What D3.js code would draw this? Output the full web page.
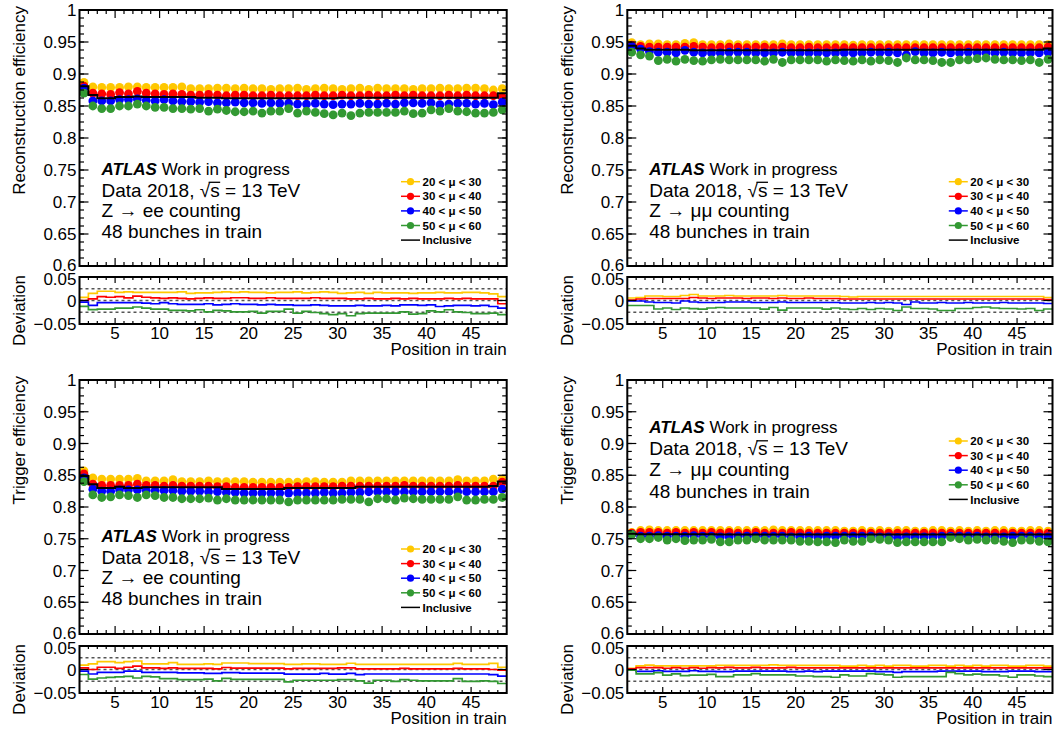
<!DOCTYPE html>
<html><head><meta charset="utf-8">
<script src="https://cdn.jsdelivr.net/npm/d3@7"></script>
<style>
body{margin:0;background:#fff;}
svg{display:block;font-family:"Liberation Sans",Arial,Helvetica,sans-serif;}
</style>
</head><body>
<svg id="chart" width="1055" height="730"></svg>
<script>
// ---------------- DATA ----------------
const positions = d3.range(1, 49); // bunch position in train
const muBins = ["20 < \u03bc < 30", "30 < \u03bc < 40", "40 < \u03bc < 50", "50 < \u03bc < 60"];
const inclusiveLabel = "Inclusive";
const mainTicks = [0.6, 0.65, 0.7, 0.75, 0.8, 0.85, 0.9, 0.95, 1];
const mainTickLabels = ["0.6", "0.65", "0.7", "0.75", "0.8", "0.85", "0.9", "0.95", "1"];
const devTicks = [-0.05, 0, 0.05];
const devTickLabels = ["\u22120.05", "0", "0.05"];
const devRefLines = [-0.025, 0, 0.025];
const xTicks = [5, 10, 15, 20, 25, 30, 35, 40, 45];
const xTickLabels = ["5", "10", "15", "20", "25", "30", "35", "40", "45"];

// Z->ee reconstruction efficiency
const recoEE_mu20 = [0.887,0.880,0.879,0.879,0.879,0.880,0.880,0.879,0.879,0.879,0.879,0.880,0.877,0.877,0.877,0.878,0.878,0.877,0.878,0.877,0.877,0.876,0.877,0.877,0.878,0.876,0.877,0.878,0.877,0.876,0.877,0.878,0.876,0.878,0.877,0.877,0.877,0.876,0.877,0.877,0.878,0.877,0.877,0.878,0.878,0.877,0.875,0.877];
const recoEE_mu30 = [0.881,0.870,0.869,0.868,0.871,0.869,0.873,0.870,0.869,0.868,0.869,0.868,0.867,0.867,0.868,0.867,0.866,0.867,0.867,0.866,0.866,0.867,0.866,0.866,0.866,0.866,0.867,0.866,0.866,0.867,0.866,0.866,0.867,0.866,0.866,0.867,0.866,0.867,0.866,0.866,0.866,0.867,0.866,0.867,0.866,0.866,0.866,0.864];
const recoEE_mu40 = [0.878,0.858,0.858,0.858,0.860,0.860,0.861,0.859,0.858,0.860,0.858,0.857,0.857,0.856,0.857,0.855,0.855,0.856,0.855,0.855,0.854,0.855,0.854,0.854,0.853,0.853,0.854,0.853,0.852,0.853,0.853,0.854,0.853,0.853,0.854,0.853,0.855,0.855,0.854,0.855,0.852,0.853,0.854,0.854,0.853,0.854,0.852,0.856];
const recoEE_mu50 = [0.870,0.850,0.846,0.846,0.850,0.850,0.853,0.850,0.848,0.848,0.846,0.846,0.845,0.846,0.842,0.845,0.843,0.841,0.841,0.842,0.839,0.842,0.842,0.846,0.839,0.842,0.840,0.838,0.836,0.839,0.835,0.839,0.840,0.840,0.840,0.840,0.842,0.838,0.839,0.844,0.842,0.846,0.842,0.841,0.839,0.839,0.840,0.844];
const recoEE_incl = [0.881,0.867,0.862,0.862,0.864,0.864,0.865,0.864,0.864,0.864,0.864,0.864,0.864,0.863,0.863,0.863,0.862,0.862,0.862,0.862,0.862,0.862,0.862,0.862,0.862,0.862,0.862,0.862,0.862,0.863,0.863,0.863,0.863,0.863,0.863,0.863,0.863,0.863,0.863,0.863,0.863,0.863,0.863,0.863,0.863,0.863,0.863,0.870];

// Z->mumu reconstruction efficiency
const recoMM_mu20 = [0.949,0.946,0.947,0.947,0.946,0.946,0.948,0.949,0.946,0.946,0.946,0.947,0.946,0.946,0.946,0.946,0.946,0.947,0.946,0.946,0.946,0.946,0.946,0.946,0.946,0.945,0.946,0.946,0.946,0.946,0.946,0.946,0.946,0.946,0.946,0.946,0.946,0.946,0.946,0.946,0.946,0.946,0.946,0.946,0.946,0.946,0.946,0.946];
const recoMM_mu30 = [0.945,0.943,0.942,0.942,0.942,0.942,0.942,0.943,0.942,0.941,0.942,0.942,0.942,0.941,0.942,0.942,0.941,0.942,0.941,0.941,0.942,0.941,0.941,0.941,0.941,0.941,0.941,0.941,0.941,0.941,0.941,0.941,0.941,0.941,0.941,0.941,0.941,0.941,0.941,0.941,0.941,0.941,0.941,0.941,0.941,0.941,0.941,0.942];
const recoMM_mu40 = [0.943,0.939,0.935,0.934,0.934,0.933,0.937,0.934,0.933,0.933,0.933,0.934,0.934,0.934,0.933,0.933,0.933,0.934,0.933,0.933,0.933,0.933,0.933,0.933,0.933,0.933,0.933,0.934,0.933,0.934,0.933,0.930,0.935,0.933,0.933,0.934,0.933,0.933,0.934,0.933,0.933,0.933,0.934,0.933,0.933,0.933,0.933,0.934];
const recoMM_mu50 = [0.934,0.930,0.928,0.921,0.923,0.920,0.923,0.921,0.920,0.922,0.923,0.922,0.922,0.922,0.922,0.920,0.923,0.918,0.922,0.922,0.922,0.922,0.920,0.922,0.921,0.920,0.922,0.920,0.922,0.921,0.918,0.925,0.922,0.922,0.921,0.918,0.918,0.922,0.922,0.924,0.925,0.923,0.922,0.922,0.921,0.922,0.918,0.923];
const recoMM_incl = [0.944,0.940,0.938,0.938,0.938,0.938,0.938,0.937,0.937,0.937,0.937,0.937,0.937,0.937,0.937,0.937,0.937,0.937,0.937,0.937,0.937,0.937,0.937,0.937,0.938,0.938,0.938,0.938,0.938,0.938,0.938,0.938,0.938,0.938,0.938,0.938,0.938,0.938,0.938,0.938,0.938,0.938,0.938,0.938,0.938,0.938,0.938,0.940];

// Z->ee trigger efficiency
const trigEE_mu20 = [0.857,0.846,0.844,0.844,0.844,0.844,0.845,0.841,0.841,0.841,0.843,0.840,0.840,0.840,0.841,0.840,0.840,0.840,0.840,0.839,0.839,0.839,0.839,0.839,0.839,0.840,0.840,0.839,0.839,0.839,0.841,0.841,0.841,0.841,0.841,0.841,0.841,0.841,0.841,0.841,0.841,0.841,0.843,0.841,0.841,0.841,0.844,0.844];
const trigEE_mu30 = [0.852,0.836,0.834,0.834,0.834,0.834,0.836,0.834,0.834,0.833,0.834,0.833,0.833,0.833,0.833,0.832,0.832,0.831,0.831,0.831,0.831,0.831,0.831,0.831,0.832,0.832,0.832,0.832,0.832,0.833,0.833,0.833,0.833,0.833,0.833,0.833,0.834,0.833,0.833,0.833,0.833,0.833,0.834,0.833,0.833,0.833,0.833,0.839];
const trigEE_mu40 = [0.846,0.828,0.825,0.825,0.827,0.827,0.827,0.826,0.826,0.826,0.826,0.825,0.825,0.825,0.824,0.824,0.823,0.823,0.822,0.822,0.822,0.822,0.822,0.822,0.822,0.822,0.822,0.823,0.822,0.822,0.823,0.823,0.824,0.824,0.824,0.824,0.824,0.824,0.824,0.824,0.824,0.824,0.824,0.824,0.824,0.824,0.824,0.828];
const trigEE_mu50 = [0.840,0.819,0.815,0.816,0.819,0.818,0.815,0.819,0.818,0.815,0.815,0.813,0.813,0.813,0.814,0.811,0.813,0.811,0.811,0.811,0.811,0.811,0.811,0.808,0.811,0.811,0.811,0.811,0.811,0.812,0.812,0.812,0.808,0.813,0.813,0.811,0.814,0.813,0.812,0.812,0.812,0.812,0.816,0.811,0.811,0.812,0.812,0.815];
const trigEE_incl = [0.849,0.836,0.830,0.830,0.832,0.830,0.830,0.831,0.831,0.831,0.831,0.831,0.831,0.831,0.831,0.831,0.8285,0.8285,0.8285,0.8285,0.8285,0.8285,0.8285,0.830,0.830,0.830,0.830,0.830,0.830,0.830,0.830,0.832,0.832,0.832,0.832,0.832,0.832,0.832,0.832,0.832,0.832,0.832,0.832,0.832,0.832,0.832,0.833,0.840];

// Z->mumu trigger efficiency
const trigMM_mu20 = [0.760,0.763,0.764,0.763,0.763,0.763,0.763,0.763,0.763,0.763,0.763,0.763,0.763,0.763,0.763,0.763,0.764,0.763,0.763,0.763,0.763,0.763,0.763,0.763,0.762,0.762,0.763,0.762,0.763,0.762,0.763,0.763,0.762,0.762,0.763,0.763,0.762,0.763,0.762,0.763,0.762,0.763,0.763,0.762,0.762,0.763,0.763,0.762];
const trigMM_mu30 = [0.759,0.760,0.760,0.760,0.759,0.760,0.759,0.760,0.759,0.760,0.759,0.760,0.759,0.759,0.760,0.759,0.759,0.759,0.760,0.759,0.759,0.759,0.759,0.759,0.759,0.759,0.759,0.759,0.759,0.759,0.759,0.759,0.759,0.759,0.759,0.759,0.759,0.759,0.759,0.759,0.759,0.759,0.759,0.759,0.759,0.759,0.759,0.759];
const trigMM_mu40 = [0.757,0.754,0.754,0.755,0.754,0.754,0.754,0.755,0.754,0.754,0.753,0.753,0.754,0.754,0.754,0.754,0.754,0.754,0.753,0.753,0.754,0.753,0.754,0.754,0.754,0.754,0.754,0.754,0.753,0.753,0.752,0.753,0.753,0.753,0.753,0.754,0.754,0.754,0.754,0.754,0.753,0.753,0.753,0.754,0.754,0.754,0.753,0.753];
const trigMM_mu50 = [0.757,0.750,0.750,0.752,0.748,0.750,0.747,0.748,0.748,0.749,0.745,0.745,0.748,0.748,0.750,0.748,0.748,0.748,0.748,0.746,0.746,0.745,0.745,0.744,0.748,0.746,0.746,0.750,0.749,0.748,0.744,0.745,0.745,0.745,0.745,0.745,0.752,0.750,0.748,0.749,0.748,0.748,0.746,0.744,0.748,0.748,0.746,0.745];
const trigMM_incl = [0.758,0.757,0.757,0.757,0.757,0.757,0.757,0.757,0.757,0.757,0.7565,0.7565,0.7565,0.7565,0.7565,0.7565,0.7565,0.7565,0.7565,0.7565,0.7565,0.7565,0.7565,0.7565,0.7565,0.7565,0.7565,0.7565,0.7565,0.7565,0.7565,0.7565,0.7565,0.7565,0.7565,0.7565,0.7565,0.7565,0.7565,0.7565,0.7565,0.7565,0.7565,0.7565,0.7565,0.7565,0.7565,0.7565];

// ---------------- STYLE / LAYOUT ----------------
const seriesColors = ["#ffc800", "#ff0000", "#0000ff", "#339933"];

const panels = [
  {left: 79.5, right: 506.7, mainTop: 10, mainBottom: 266, ratTop: 277, ratBottom: 324,
   ytitle: "Reconstruction efficiency", channel: "Z \u2192 ee counting",
   series: [recoEE_mu20, recoEE_mu30, recoEE_mu40, recoEE_mu50], incl: recoEE_incl,
   textY: [165, 186.5, 207, 228], legY: 171.7},
  {left: 627.3, right: 1052.5, mainTop: 10, mainBottom: 266, ratTop: 277, ratBottom: 324,
   ytitle: "Reconstruction efficiency", channel: "Z \u2192 \u03bc\u03bc counting",
   series: [recoMM_mu20, recoMM_mu30, recoMM_mu40, recoMM_mu50], incl: recoMM_incl,
   textY: [165, 186.5, 207, 228], legY: 171.7},
  {left: 79.5, right: 506.7, mainTop: 380, mainBottom: 634, ratTop: 646, ratBottom: 693,
   ytitle: "Trigger efficiency", channel: "Z \u2192 ee counting",
   series: [trigEE_mu20, trigEE_mu30, trigEE_mu40, trigEE_mu50], incl: trigEE_incl,
   textY: [162, 183.5, 204, 225], legY: 169},
  {left: 627.3, right: 1052.5, mainTop: 380, mainBottom: 634, ratTop: 646, ratBottom: 693,
   ytitle: "Trigger efficiency", channel: "Z \u2192 \u03bc\u03bc counting",
   series: [trigMM_mu20, trigMM_mu30, trigMM_mu40, trigMM_mu50], incl: trigMM_incl,
   textY: [53, 75, 96, 117.5], legY: 61}
];

const svg = d3.select("#chart");
svg.append("rect").attr("width", 1055).attr("height", 730).attr("fill", "#fff");

panels.forEach((p, pi) => {
  const g = svg.append("g");
  const x = d3.scaleLinear().domain([1, 49]).range([p.left, p.right]);
  const y = d3.scaleLinear().domain([0.6, 1]).range([p.mainBottom, p.mainTop]);
  const yr = d3.scaleLinear().domain([-0.05, 0.05]).range([p.ratBottom, p.ratTop]);

  const clipId = "clipR" + pi;
  svg.append("clipPath").attr("id", clipId).append("rect")
    .attr("x", p.left).attr("y", p.ratTop).attr("width", p.right - p.left).attr("height", p.ratBottom - p.ratTop);
  const clipM = "clipM" + pi;
  svg.append("clipPath").attr("id", clipM).append("rect")
    .attr("x", p.left).attr("y", p.mainTop).attr("width", p.right - p.left).attr("height", p.mainBottom - p.mainTop);

  // ---- main pad: markers
  p.series.forEach((vals, si) => {
    g.append("g").attr("clip-path", `url(#${clipM})`).selectAll("circle")
      .data(vals).join("circle")
      .attr("cx", (d, i) => x(positions[i] + 0.5))
      .attr("cy", d => y(d))
      .attr("r", 4.4)
      .attr("fill", seriesColors[si]);
  });
  // inclusive step histogram
  const stepPts = p.incl.map((v, i) => [positions[i], v]).concat([[positions[positions.length - 1] + 1, p.incl[p.incl.length - 1]]]);
  g.append("path").attr("clip-path", `url(#${clipM})`)
    .attr("d", d3.line().x(d => x(d[0])).y(d => y(d[1])).curve(d3.curveStepAfter)(stepPts))
    .attr("fill", "none").attr("stroke", "#000").attr("stroke-width", 2);

  // ---- ratio pad
  devRefLines.forEach(v => {
    g.append("line").attr("x1", p.left).attr("x2", p.right).attr("y1", yr(v)).attr("y2", yr(v))
      .attr("stroke", "#555").attr("stroke-width", 1.3).attr("stroke-dasharray", "3,3");
  });
  p.series.forEach((vals, si) => {
    const dev = vals.map((v, i) => v / p.incl[i] - 1);
    const pts = dev.map((d, i) => [positions[i], d]).concat([[positions[positions.length - 1] + 1, dev[dev.length - 1]]]);
    g.append("path").attr("clip-path", `url(#${clipId})`)
      .attr("d", d3.line().x(d => x(d[0])).y(d => yr(d[1])).curve(d3.curveStepAfter)(pts))
      .attr("fill", "none").attr("stroke", seriesColors[si]).attr("stroke-width", 1.7);
  });

  // ---- ticks
  const tk = g.append("g").attr("stroke", "#000").attr("stroke-width", 1.2);
  const minorX = d3.range(2, 49).filter(v => v % 5 !== 0);
  xTicks.forEach(t => {
    tk.append("line").attr("x1", x(t)).attr("x2", x(t)).attr("y1", p.mainBottom).attr("y2", p.mainBottom - 8);
    tk.append("line").attr("x1", x(t)).attr("x2", x(t)).attr("y1", p.mainTop).attr("y2", p.mainTop + 8);
    tk.append("line").attr("x1", x(t)).attr("x2", x(t)).attr("y1", p.ratBottom).attr("y2", p.ratBottom - 6);
    tk.append("line").attr("x1", x(t)).attr("x2", x(t)).attr("y1", p.ratTop).attr("y2", p.ratTop + 6);
  });
  minorX.forEach(t => {
    tk.append("line").attr("x1", x(t)).attr("x2", x(t)).attr("y1", p.mainBottom).attr("y2", p.mainBottom - 4);
    tk.append("line").attr("x1", x(t)).attr("x2", x(t)).attr("y1", p.mainTop).attr("y2", p.mainTop + 4);
    tk.append("line").attr("x1", x(t)).attr("x2", x(t)).attr("y1", p.ratBottom).attr("y2", p.ratBottom - 3);
    tk.append("line").attr("x1", x(t)).attr("x2", x(t)).attr("y1", p.ratTop).attr("y2", p.ratTop + 3);
  });
  const minorY = d3.range(0, 33).map(k => 0.6 + k * 0.0125);
  mainTicks.forEach(t => {
    tk.append("line").attr("x1", p.left).attr("x2", p.left + 9).attr("y1", y(t)).attr("y2", y(t));
    tk.append("line").attr("x1", p.right).attr("x2", p.right - 9).attr("y1", y(t)).attr("y2", y(t));
  });
  minorY.forEach(t => {
    tk.append("line").attr("x1", p.left).attr("x2", p.left + 4.5).attr("y1", y(t)).attr("y2", y(t));
    tk.append("line").attr("x1", p.right).attr("x2", p.right - 4.5).attr("y1", y(t)).attr("y2", y(t));
  });
  devTicks.forEach(t => {
    tk.append("line").attr("x1", p.left).attr("x2", p.left + 9).attr("y1", yr(t)).attr("y2", yr(t));
    tk.append("line").attr("x1", p.right).attr("x2", p.right - 9).attr("y1", yr(t)).attr("y2", yr(t));
  });

  // ---- frames
  [[p.mainTop, p.mainBottom], [p.ratTop, p.ratBottom]].forEach(([t, b]) => {
    g.append("rect").attr("x", p.left).attr("y", t).attr("width", p.right - p.left).attr("height", b - t)
      .attr("fill", "none").attr("stroke", "#000").attr("stroke-width", 2);
  });

  // ---- tick labels
  const lab = g.append("g").attr("font-size", 17).attr("fill", "#000");
  mainTicks.forEach((t, i) => {
    lab.append("text").attr("x", p.left - 3).attr("y", y(t)).attr("dy", i === 0 ? "0.28em" : "0.36em")
      .attr("text-anchor", "end").text(mainTickLabels[i]);
  });
  devTicks.forEach((t, i) => {
    lab.append("text").attr("x", p.left - 3).attr("y", yr(t)).attr("dy", i === 2 ? "0.46em" : "0.36em")
      .attr("text-anchor", "end").text(devTickLabels[i]);
  });
  xTicks.forEach((t, i) => {
    lab.append("text").attr("x", x(t)).attr("y", p.ratBottom + 15)
      .attr("text-anchor", "middle").text(xTickLabels[i]);
  });
  lab.append("text").attr("transform", `translate(${p.left - 54.5},${p.mainTop - 4}) rotate(-90)`)
    .attr("text-anchor", "end").text(p.ytitle);
  lab.append("text").attr("transform", `translate(${p.left - 54.5},${p.ratTop - 2}) rotate(-90)`)
    .attr("text-anchor", "end").text("Deviation");
  lab.append("text").attr("x", p.right).attr("y", p.ratBottom + 31)
    .attr("text-anchor", "end").text("Position in train");

  // ---- ATLAS label block
  const tx = p.left + 22;
  const t1 = g.append("text").attr("x", tx).attr("y", p.mainTop + p.textY[0]).attr("font-size", 17);
  t1.append("tspan").attr("font-weight", "bold").attr("font-style", "italic").text("ATLAS");
  t1.append("tspan").text(" Work in progress");
  const line2 = "Data 2018, \u221as = 13 TeV";
  const by2 = p.mainTop + p.textY[1];
  const t2 = g.append("text").attr("x", tx).attr("y", by2).attr("font-size", 19).text(line2);
  const node = t2.node();
  const iRad = line2.indexOf("\u221a");
  const xs0 = tx + node.getSubStringLength(0, iRad + 1) - 1.5;
  const xs1 = tx + node.getSubStringLength(0, iRad + 2) + 0.5;
  g.append("line").attr("x1", xs0).attr("x2", xs1).attr("y1", by2 - 14.2).attr("y2", by2 - 14.2)
    .attr("stroke", "#000").attr("stroke-width", 1.3);
  g.append("text").attr("x", tx).attr("y", p.mainTop + p.textY[2]).attr("font-size", 19).text(p.channel);
  g.append("text").attr("x", tx).attr("y", p.mainTop + p.textY[3]).attr("font-size", 19).text("48 bunches in train");

  // ---- legend
  const lx = p.left + 331;
  const rowH = 14.6;
  const leg = g.append("g");
  muBins.forEach((lbl, si) => {
    const ly = p.mainTop + p.legY + si * rowH;
    leg.append("line").attr("x1", lx - 9.5).attr("x2", lx + 9.5).attr("y1", ly).attr("y2", ly)
      .attr("stroke", seriesColors[si]).attr("stroke-width", 1.5);
    leg.append("circle").attr("cx", lx).attr("cy", ly).attr("r", 3.6).attr("fill", seriesColors[si]);
    leg.append("text").attr("x", lx + 12).attr("y", ly).attr("dy", "0.36em")
      .attr("font-size", 11.5).attr("font-weight", "bold").text(lbl);
  });
  const ly5 = p.mainTop + p.legY + 4 * rowH;
  leg.append("line").attr("x1", lx - 9.5).attr("x2", lx + 9.5).attr("y1", ly5).attr("y2", ly5)
    .attr("stroke", "#000").attr("stroke-width", 1.5);
  leg.append("text").attr("x", lx + 12).attr("y", ly5).attr("dy", "0.36em")
    .attr("font-size", 11.5).attr("font-weight", "bold").text(inclusiveLabel);
});
</script>
</body></html>
